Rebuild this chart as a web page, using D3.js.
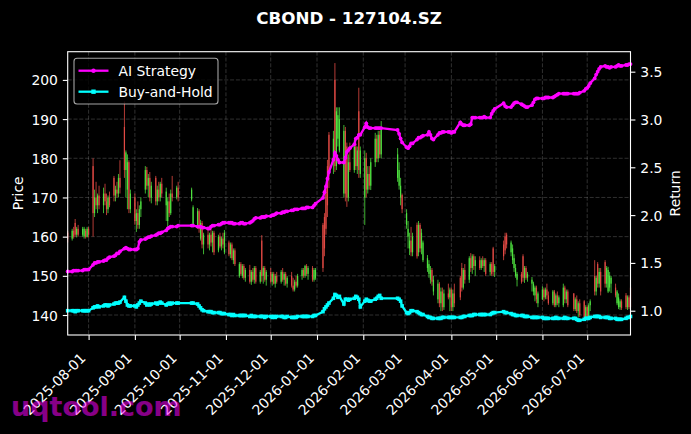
<!DOCTYPE html>
<html><head><meta charset="utf-8">
<script src="https://cdn.jsdelivr.net/npm/d3@7/dist/d3.min.js"></script>
<style>html,body{margin:0;padding:0;background:#000;}svg{display:block;}</style>
</head><body>
<svg id="c" width="691" height="434"></svg>
<script>
// ---------- DATA ----------
const startDate = "2025-07-18", endDate = "2026-07-30";
const holidays = ["2025-10-01","2025-10-02","2025-10-03","2025-10-06","2025-10-07","2025-10-08",
  "2026-01-01","2026-01-02","2026-02-16","2026-02-17","2026-02-18","2026-02-19","2026-02-20","2026-02-23",
  "2026-04-06","2026-05-01","2026-05-04","2026-05-05","2026-06-19"];
const xTickLabels = ["2025-08-01","2025-09-01","2025-10-01","2025-11-01","2025-12-01","2026-01-01",
  "2026-02-01","2026-03-01","2026-04-01","2026-05-01","2026-06-01","2026-07-01"];
const priceTicks = [140,150,160,170,180,190,200];
const returnTicks = [1.0,1.5,2.0,2.5,3.0,3.5];

const opens = [
161,159.5,161.5,163.5,160.5,162,160.5,160,161.5,160,
162,178,166,170,168,170.5,168,171,169,167,170,175,170.5,172,171,175,188,177,172,179,167,
170,164,166,163,167,172,177,173,175,170,175,169,172,170,173.5,168,164,169,166,171,170,172.5,
169.5,163,162.5,166.5,159.5,163.5,158,160.5,158,160.5,158.5,161,156.5,160,157.5,159.5,156,
158.5,155.5,158,154,156.5,150,153,150,152.5,149.5,151.5,148.5,151,149,152,148.5,159,150,152,149,
151,148.5,150.5,148,150,148.5,151,149,150.5,148,150,147.5,146.5,148.5,147.5,150,151.5,150,152.5,150.5,152,149,149.5,
163,165,172,178,186,180,200,178,185,182,171,187,183,170,179,177,183,178,192,176,
170,180,172,176,173,179,185,180,186,181,175,173,170,170.6,
163,160,157,159,156,163,156,163,157,154,152,150.5,149,151.5,146,144,148,143,146,142,145.5,144.5,
146.5,142,145.5,149.5,152,147,151.5,149,154.5,152,155,152.5,154,152,154,152.5,154,151,153,157,151,
158,160,160.5,156,154,152,150,149,150.5,155,149.5,152,149.5,148,146,145,147,143,
144,146.5,144.5,146.5,145,143,146,142.5,145,143,142.5,147,144,146,145.5,141.5,144,141,143,143.5,139.5,
142,139.5,142.5,150,146,153,148,151,153.5,148,146,147,148,147,143,142,142,143.5,145,142,144.5,147];
const highs = [
161.5,162,162.5,164.5,162.5,163,162.5,162.5,162,162.5,
162.5,180,172,174,171,173,172.5,173.5,171,170.5,171.5,175.5,173,174,176,179.5,194.5,182,181,179.5,172,
171,167,169,168,170,178,177.8,176,176.5,174,175.5,173,174,174,175,172.5,170,171,172,175.5,173,174,
172.5,168,167.3,167,164.3,164,161,162,161,162.5,161.5,161.5,160.5,161,160,161,161.7,
159,158.5,158.5,157,157,153.5,153.5,153,153,152,152.8,151.5,152,152.5,152.5,151.5,160.4,152.5,152.5,151.5,
152,151,151,150.5,151,151.5,152,151,151,150,151,149.5,149,150,150.5,152,152,152.8,153,152.5,152.5,152,152,
163.5,166,172.5,179.6,186.7,187,204.3,193,193,193,188.5,188,184,181,184,184.7,184,183,198,183,
182,181.4,178,178,180,186.5,186,187,187,189.5,182.6,179,175,171,
167,164,161,162.5,161,163.6,164,163.5,162,159,155.3,154,152.5,152,150,149,148.4,147,147,146.5,148,147,
147,146.5,148,150,153.3,152,153,155,155.8,155.5,155.5,155,155,154.5,155,154.5,154.5,153.5,153.5,157.4,153,
159,161,161,159,158,155.5,153,151,151,155.5,152.5,152.5,151,149.7,148.5,147.5,147.5,146,
147.3,147,147,148,146,146.4,146.4,145.5,146,145,148,147.5,146.5,146.5,145.6,144.5,145,143.5,144,143.8,142.5,
142.5,143,144,154,150,153.5,152,152,154,152.5,152.3,151,150,148,146.4,145.5,144,144,145.6,145,145,148];
const lows = [
158.5,159,159.5,160,159.8,160,160,159.5,159.5,159.8,
159.8,160,165,167,166,167,166,168,165.5,166,167.5,169,169,170,170,171,175,170,167,166,166,
163,161.2,162,162,165,171,172,170,169,168.5,168,168,169,169,170,164,162.5,165,165.5,169,169.5,169,
169,162.5,162,161,159,157,155.5,157,156.5,157.5,156,155.3,156,157,156.5,157,155.5,
155,154.5,154,153,152.5,149.5,150,149.4,149,148.5,148,147.7,148.5,148,148,148,148.5,148,148.5,147.5,
148,147.5,147.8,147,148,148,148.5,147.5,147.5,147,147,146,146,147,147,149,149.5,149.5,150,149,148.5,148.5,149,
151,155,160.5,165,172.4,176,176.5,177,183,181.5,170,169,167.6,169,176.5,176.3,177,176,175,175,
163,170,171,172,171.9,177.8,179,179,180,180,174,172,168,166,
162,157,155.3,155,155,154.4,155,156,155.5,153.5,151,149.5,148,147.5,145,143,142,141,141,141.3,144,141,
141,141,142,143.8,146,146.5,148,148.2,151,150.5,151.5,150,151.5,151.5,152,151,150,150,150,150,149.7,
154,155.5,157,155,153,151,149.5,147.3,148,148.5,148.2,149,148.5,146,145,143.5,143,142,
143.8,143.5,144,144,142.6,142.5,142,142,142.5,142,142,143,143,142,141,141,140.5,139.5,139.5,139,138.7,
139,139,141,145,145,147,147,145,147,147,145.6,146,145.6,144.5,142.5,141.5,141.3,141.3,141.5,141.3,141.5,141.5];
const closes = [
159.5,161.5,160,160.5,162,160.5,162,162,160,162,
160.5,166,170,168,170.5,168,171,169,167,170,168,170.5,172,171,175,172.5,177,181.5,179,167,171,
164,166,163,167,169,177,173,175,170,173,169,172,170,173.5,171,171.5,169,166,171,170,172.5,170,
172,167.5,166.5,162,163.5,158,160.5,158,160.5,158.5,161,156,160,157.5,159.5,158,161,
155.5,158,154.5,156.5,153,153,150.5,152.5,149.5,151.5,148.5,151,149,152,148.5,151,150,152,149,151,
148.5,150.5,148,150,148.5,151,149,150.5,148,149.5,147.5,146.5,148.5,147.5,150,151.5,150,152.5,150.5,152,149,151.5,151.5,
152,157,162,168,176,185,178,192,191,190,187,171,170,179,177,183,178,182,177,182,
180,172,176,173,179,185,180,186,181,188,181,177,173,167,
166,162,159,156,160,155,163,157,161,158.5,154.5,153,151.5,148.5,149,148,143,146,142,145.5,144.5,146.5,
142,145.5,143,144.5,147,151.5,149,154.5,152,155,152.5,154,152,154,152.5,154,150.5,153,150.5,151,152.5,
155,156.5,158,158.5,157,154.5,152,150.5,148.5,149.5,152,149.5,150.5,149,148,147,144,145.5,
146.5,144.5,146.5,145,143,146,142.5,145,143,144.5,147,144,146,142.5,141.5,144,141,143,140,139.5,142,
139.5,142.5,143.5,146,149.5,148,151,146,148,152,151.5,150,149.5,145,146,144.5,143.5,141.8,142,144.5,142,142];
const aiStrategy = [
1.41,1.41,1.42,1.42,1.42,1.42,1.42,1.43,1.43,1.43,
1.43,1.48,1.50,1.50,1.51,1.51,1.52,1.53,1.53,1.55,1.56,1.57,1.58,1.60,1.60,1.62,1.65,1.66,1.65,1.64,1.64,
1.64,1.64,1.65,1.72,1.74,1.75,1.76,1.77,1.77,1.78,1.79,1.80,1.81,1.81,1.82,1.84,1.86,1.87,1.88,1.88,1.88,1.89,
1.89,1.89,1.88,1.88,1.88,1.87,1.87,1.86,1.86,1.88,1.89,1.89,1.90,1.90,1.91,1.92,1.92,
1.92,1.92,1.92,1.91,1.91,1.91,1.92,1.92,1.91,1.91,1.92,1.93,1.94,1.96,1.97,1.97,1.98,1.98,1.98,1.99,
1.99,2.00,2.00,2.01,2.02,2.02,2.03,2.03,2.04,2.04,2.05,2.05,2.06,2.06,2.06,2.07,2.07,2.07,2.08,2.08,2.08,2.10,2.12,
2.18,2.24,2.30,2.38,2.45,2.58,2.65,2.62,2.58,2.55,2.55,2.60,2.66,2.68,2.70,2.74,2.80,2.81,2.84,2.84,
2.92,2.96,2.92,2.91,2.91,2.91,2.91,2.91,2.91,2.91,2.89,2.85,2.80,2.76,
2.71,2.70,2.72,2.75,2.75,2.79,2.81,2.81,2.82,2.83,2.84,2.87,2.84,2.80,2.79,2.84,2.86,2.86,2.87,2.87,2.87,2.87,
2.86,2.87,2.87,2.97,2.95,2.94,2.94,2.94,2.95,3.02,3.02,3.02,3.02,3.02,3.02,3.03,3.02,3.02,3.06,3.09,3.11,
3.17,3.14,3.13,3.13,3.15,3.17,3.18,3.18,3.16,3.15,3.14,3.13,3.13,3.15,3.18,3.21,3.22,3.22,
3.22,3.22,3.23,3.23,3.23,3.23,3.24,3.25,3.26,3.27,3.27,3.27,3.27,3.27,3.27,3.27,3.27,3.27,3.28,3.30,3.32,
3.33,3.35,3.38,3.43,3.47,3.50,3.53,3.55,3.56,3.55,3.55,3.54,3.55,3.55,3.56,3.57,3.56,3.56,3.57,3.57,3.58,3.58];
const buyHold = [
1.00,1.00,1.00,0.99,1.00,1.00,1.00,1.00,1.00,1.00,
1.00,1.03,1.04,1.04,1.05,1.04,1.05,1.06,1.06,1.05,1.06,1.07,1.08,1.08,1.08,1.09,1.14,1.10,1.06,1.05,1.05,
1.05,1.04,1.06,1.08,1.10,1.08,1.06,1.07,1.06,1.07,1.08,1.07,1.08,1.09,1.08,1.06,1.07,1.08,1.07,1.08,1.08,1.08,
1.08,1.08,1.07,1.05,1.03,1.01,1.00,0.99,0.99,0.99,0.98,0.98,0.98,0.98,0.97,0.97,0.97,
0.96,0.96,0.95,0.96,0.95,0.95,0.95,0.95,0.95,0.95,0.94,0.95,0.94,0.94,0.94,0.94,0.94,0.94,0.93,0.94,
0.94,0.93,0.94,0.93,0.94,0.94,0.94,0.93,0.93,0.94,0.93,0.93,0.93,0.93,0.94,0.94,0.94,0.94,0.94,0.94,0.94,0.95,0.95,
0.99,1.02,1.04,1.06,1.08,1.13,1.17,1.16,1.14,1.15,1.07,1.12,1.12,1.11,1.12,1.13,1.15,1.14,1.12,1.04,
1.10,1.12,1.11,1.10,1.10,1.12,1.13,1.15,1.16,1.13,1.13,1.12,1.10,1.05,
0.98,0.97,0.98,1.00,1.00,0.99,0.98,0.97,0.96,0.96,0.94,0.93,0.93,0.92,0.92,0.92,0.92,0.92,0.93,0.93,0.93,0.93,
0.93,0.93,0.93,0.93,0.93,0.94,0.94,0.95,0.95,0.95,0.96,0.96,0.96,0.96,0.96,0.96,0.96,0.96,0.97,0.98,0.98,
0.99,0.98,0.98,0.97,0.96,0.96,0.95,0.95,0.95,0.95,0.94,0.94,0.94,0.93,0.93,0.93,0.93,0.93,
0.93,0.92,0.92,0.92,0.92,0.92,0.92,0.93,0.92,0.92,0.92,0.93,0.92,0.92,0.92,0.92,0.91,0.90,0.90,0.91,0.92,
0.92,0.92,0.93,0.94,0.94,0.94,0.94,0.93,0.93,0.93,0.93,0.92,0.92,0.92,0.91,0.91,0.91,0.91,0.92,0.93,0.93,0.94];

// ---------- BUILD ----------
const parse = d3.utcParse("%Y-%m-%d"), fmt = d3.utcFormat("%Y-%m-%d");
const hol = new Set(holidays);
const dates = [];
for (let d = parse(startDate); d <= parse(endDate); d = d3.utcDay.offset(d, 1)) {
  const wd = d.getUTCDay();
  if (wd !== 0 && wd !== 6 && !hol.has(fmt(d))) dates.push(d);
}
const n = Math.min(dates.length, opens.length, highs.length, lows.length, closes.length, aiStrategy.length, buyHold.length);
const rows = d3.range(n).map(i => ({d: dates[i], o: opens[i], h: highs[i], l: lows[i], c: closes[i], ai: aiStrategy[i], bh: buyHold[i]}));

const M = {l: 67.7, r: 630.5, t: 51.7, b: 335};
const FONT = "DejaVu Sans";
const svg = d3.select("#c");
svg.append("rect").attr("width", 691).attr("height", 434).attr("fill", "#000");

const x = d3.scaleUtc().domain([parse(startDate), parse(endDate)]).range([M.l, M.r]);
const yL = d3.scaleLinear().domain([134.9, 207.2]).range([M.b, M.t]);
const yR = d3.scaleLinear().domain([0.746, 3.709]).range([M.b, M.t]);
const tickDates = xTickLabels.map(parse);

// grid
const grid = svg.append("g").attr("stroke", "#b0b0b0").attr("stroke-opacity", 0.35)
  .attr("stroke-width", 0.8).attr("stroke-dasharray", "4,1.8");
grid.selectAll("line.v").data(tickDates).join("line").attr("class", "v")
  .attr("x1", d => x(d)).attr("x2", d => x(d)).attr("y1", M.t).attr("y2", M.b);
grid.selectAll("line.h").data(priceTicks).join("line").attr("class", "h")
  .attr("y1", d => yL(d)).attr("y2", d => yL(d)).attr("x1", M.l).attr("x2", M.r);

// candles
const up = "#55f545", down = "#f5504a";
const cg = svg.append("g").attr("opacity", 0.92);
cg.selectAll("line").data(rows).join("line")
  .attr("x1", d => x(d.d)).attr("x2", d => x(d.d))
  .attr("y1", d => yL(d.h)).attr("y2", d => yL(d.l))
  .attr("stroke", d => d.c >= d.o ? up : down).attr("stroke-width", 0.8);
cg.selectAll("rect").data(rows).join("rect")
  .attr("x", d => x(d.d) - 0.6).attr("width", 1.2)
  .attr("y", d => yL(Math.max(d.o, d.c)))
  .attr("height", d => Math.max(0.8, Math.abs(yL(d.o) - yL(d.c))))
  .attr("fill", d => d.c >= d.o ? up : down);

// lines
const lineAI = d3.line().x(d => x(d.d)).y(d => yR(d.ai));
const lineBH = d3.line().x(d => x(d.d)).y(d => yR(d.bh));
svg.append("path").datum(rows).attr("d", lineAI).attr("fill", "none").attr("stroke", "#ff00ff").attr("stroke-width", 2.3);
svg.append("g").selectAll("circle").data(rows).join("circle")
  .attr("cx", d => x(d.d)).attr("cy", d => yR(d.ai)).attr("r", 1.9).attr("fill", "#ff00ff");
svg.append("path").datum(rows).attr("d", lineBH).attr("fill", "none").attr("stroke", "#00ffff").attr("stroke-width", 2.3);
svg.append("g").selectAll("rect").data(rows).join("rect")
  .attr("x", d => x(d.d) - 1.8).attr("y", d => yR(d.bh) - 1.8).attr("width", 3.6).attr("height", 3.6).attr("fill", "#00ffff");

// spines
svg.append("rect").attr("x", M.l).attr("y", M.t).attr("width", M.r - M.l).attr("height", M.b - M.t)
  .attr("fill", "none").attr("stroke", "#fff").attr("stroke-width", 1.1);

function styleAxis(g) {
  g.select(".domain").remove();
  g.selectAll(".tick line").attr("stroke", "#fff").attr("stroke-width", 1.1);
  g.selectAll(".tick text").attr("fill", "#fff").attr("font-family", FONT).attr("font-size", "13.9px");
}
const axL = svg.append("g").attr("transform", `translate(${M.l},0)`)
  .call(d3.axisLeft(yL).tickValues(priceTicks).tickSize(4.9).tickPadding(4.9).tickFormat(d3.format("d")));
styleAxis(axL); axL.selectAll(".tick text").attr("dy", "0.36em");
const axR = svg.append("g").attr("transform", `translate(${M.r},0)`)
  .call(d3.axisRight(yR).tickValues(returnTicks).tickSize(4.9).tickPadding(4.9).tickFormat(d3.format(".1f")));
styleAxis(axR); axR.selectAll(".tick text").attr("dy", "0.36em");
const axB = svg.append("g").attr("transform", `translate(0,${M.b})`)
  .call(d3.axisBottom(x).tickValues(tickDates).tickSize(4.9).tickFormat(fmt));
styleAxis(axB);
axB.selectAll(".tick text").attr("y", 0).attr("x", 0).attr("dy", null)
  .attr("text-anchor", "end").attr("transform", "translate(-2.5,24) rotate(-45)");

// axis labels
svg.append("text").attr("transform", `translate(23,${(M.t + M.b) / 2}) rotate(-90)`)
  .attr("text-anchor", "middle").attr("fill", "#fff").attr("font-family", FONT).attr("font-size", "13.9px").text("Price");
svg.append("text").attr("transform", `translate(680,${(M.t + M.b) / 2}) rotate(-90)`)
  .attr("text-anchor", "middle").attr("fill", "#fff").attr("font-family", FONT).attr("font-size", "13.9px").text("Return");

// title
svg.append("text").attr("x", (M.l + M.r) / 2).attr("y", 24).attr("text-anchor", "middle")
  .attr("fill", "#fff").attr("font-family", FONT).attr("font-weight", "bold").attr("font-size", "16.7px")
  .text("CBOND - 127104.SZ");

// legend
const lg = svg.append("g");
lg.append("rect").attr("x", 74).attr("y", 58.3).attr("width", 144).attr("height", 45.7).attr("rx", 3)
  .attr("fill", "#000").attr("fill-opacity", 0.8).attr("stroke", "#cccccc").attr("stroke-opacity", 0.8).attr("stroke-width", 1.1);
const items = [{name: "AI Strategy", color: "#ff00ff", shape: "circle"}, {name: "Buy-and-Hold", color: "#00ffff", shape: "square"}];
items.forEach((it, i) => {
  const yy = 70.7 + i * 21;
  lg.append("line").attr("x1", 78.5).attr("x2", 108.5).attr("y1", yy).attr("y2", yy).attr("stroke", it.color).attr("stroke-width", 2.3);
  if (it.shape === "circle") lg.append("circle").attr("cx", 93.5).attr("cy", yy).attr("r", 2.2).attr("fill", it.color);
  else lg.append("rect").attr("x", 91.3).attr("y", yy - 2.2).attr("width", 4.4).attr("height", 4.4).attr("fill", it.color);
  lg.append("text").attr("x", 118.5).attr("y", yy).attr("dy", "0.36em").attr("fill", "#fff")
    .attr("font-family", FONT).attr("font-size", "13.9px").text(it.name);
});

// watermark
svg.append("text").attr("x", 11).attr("y", 416).attr("fill", "#ff00ff").attr("fill-opacity", 0.55)
  .attr("font-family", FONT).attr("font-weight", "bold").attr("font-size", "27px").text("uqtool.com");
</script>
</body></html>
